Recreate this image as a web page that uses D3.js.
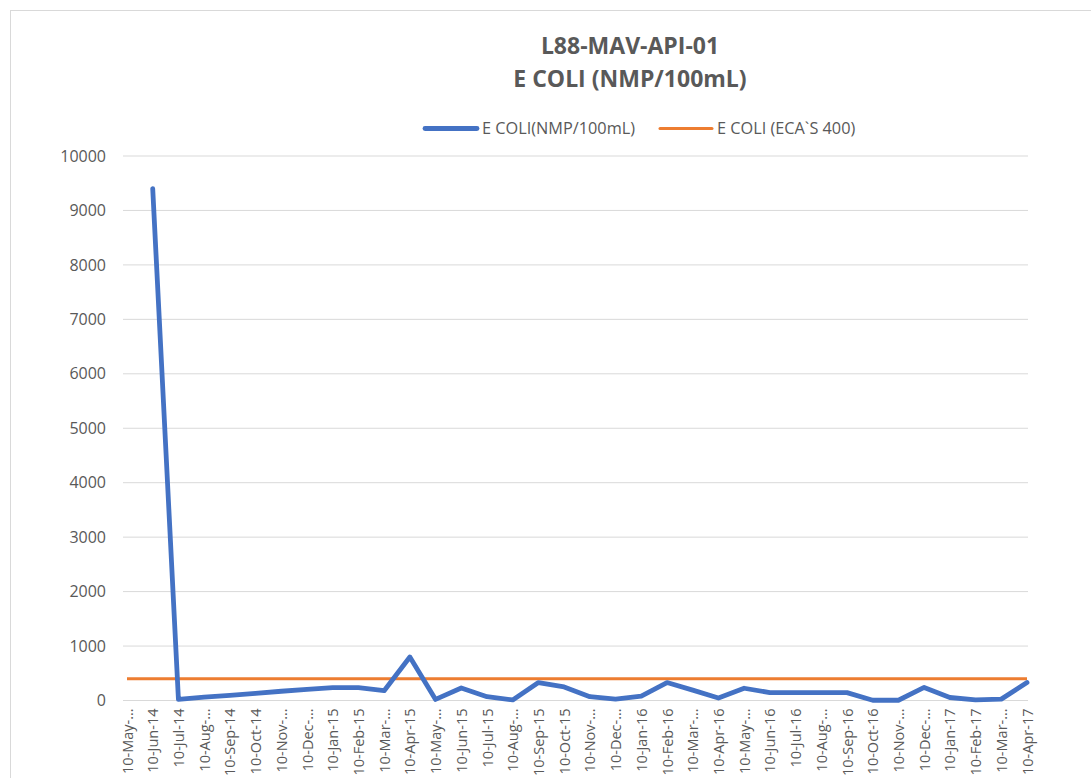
<!DOCTYPE html>
<html><head><meta charset="utf-8">
<script src="https://cdn.jsdelivr.net/npm/d3@7"></script>
<style>body{margin:0;background:#fff;font-family:"Open Sans",sans-serif;}</style>
</head><body>
<svg id="c" width="1091" height="778"></svg>
<script>
const categories = ["10-May-…","10-Jun-14","10-Jul-14","10-Aug-…","10-Sep-14","10-Oct-14","10-Nov-…","10-Dec-…","10-Jan-15","10-Feb-15","10-Mar-…","10-Apr-15","10-May-…","10-Jun-15","10-Jul-15","10-Aug-…","10-Sep-15","10-Oct-15","10-Nov-…","10-Dec-…","10-Jan-16","10-Feb-16","10-Mar-…","10-Apr-16","10-May-…","10-Jun-16","10-Jul-16","10-Aug-…","10-Sep-16","10-Oct-16","10-Nov-…","10-Dec-…","10-Jan-17","10-Feb-17","10-Mar-…","10-Apr-17"];
const ecoli = [null,9400,20,60,95,130,170,205,235,235,180,800,20,230,70,10,330,250,70,25,80,330,190,45,225,145,145,145,145,5,5,240,55,10,25,330];
const limit = categories.map(() => 400);
const yTicks = [0,1000,2000,3000,4000,5000,6000,7000,8000,9000,10000];
const title = ["L88-MAV-API-01","E COLI (NMP/100mL)"];
const seriesNames = ["E COLI(NMP/100mL)","E COLI (ECA`S 400)"];

const svg = d3.select("#c");
const txt = "#595959";
svg.append("rect").attr("x",10.5).attr("y",10.5).attr("width",1100).attr("height",800)
  .attr("fill","#fff").attr("stroke","#d9d9d9");

const gx0 = 123, gx1 = 1028;
const x = d3.scalePoint().domain(d3.range(categories.length)).range([127,1027]);
const y = d3.scaleLinear().domain([0,10000]).range([700.5,156]);

// gridlines
svg.append("g").selectAll("line").data(yTicks).join("line")
  .attr("x1",gx0).attr("x2",gx1).attr("y1",d=>y(d)).attr("y2",d=>y(d))
  .attr("stroke","#d9d9d9").attr("stroke-width",1);

// y axis labels
const ya = svg.append("g").attr("transform",`translate(${gx0},0)`)
  .call(d3.axisLeft(y).tickValues(yTicks).tickSize(0).tickPadding(17).tickFormat(d3.format("d")));
ya.select(".domain").remove();
ya.selectAll("text").attr("fill",txt).style("font-size","16px").style("font-family","Open Sans");

// x axis labels
const xa = svg.append("g").attr("transform",`translate(0,${y(0)})`)
  .call(d3.axisBottom(x).tickSize(0).tickFormat(i=>categories[i]));
xa.select(".domain").remove();
xa.selectAll("text").attr("fill",txt).style("font-size","14.5px").style("font-family","Open Sans")
  .attr("transform","rotate(-90)").attr("text-anchor","end").attr("x",-8).attr("y",0).attr("dy","0.35em");

// lines
const line = d3.line().defined(d=>d!=null).x((d,i)=>x(i)).y(d=>y(d));
svg.append("path").datum(limit).attr("d",line).attr("fill","none")
  .attr("stroke","#ED7D31").attr("stroke-width",3);
svg.append("path").datum(ecoli).attr("d",line).attr("fill","none")
  .attr("stroke","#4472C4").attr("stroke-width",4.8).attr("stroke-linejoin","round").attr("stroke-linecap","round");

// title
svg.append("g").selectAll("text").data(title).join("text")
  .attr("x",630).attr("y",(d,i)=>54+i*33).attr("text-anchor","middle")
  .attr("fill",txt).style("font-size","23px").style("font-weight","bold").text(d=>d);

// legend
const leg = [{x:423,c:"#4472C4",w:4.8},{x:658,c:"#ED7D31",w:3}];
leg.forEach((l,i)=>{
  svg.append("line").attr("x1",l.x+2).attr("x2",l.x+54).attr("y1",128.5).attr("y2",128.5)
    .attr("stroke",l.c).attr("stroke-width",l.w).attr("stroke-linecap","round");
  svg.append("text").attr("x",l.x+59).attr("y",128.5).attr("dy","0.35em")
    .attr("fill",txt).style("font-size","16.3px").text(seriesNames[i]);
});
</script>
</body></html>
